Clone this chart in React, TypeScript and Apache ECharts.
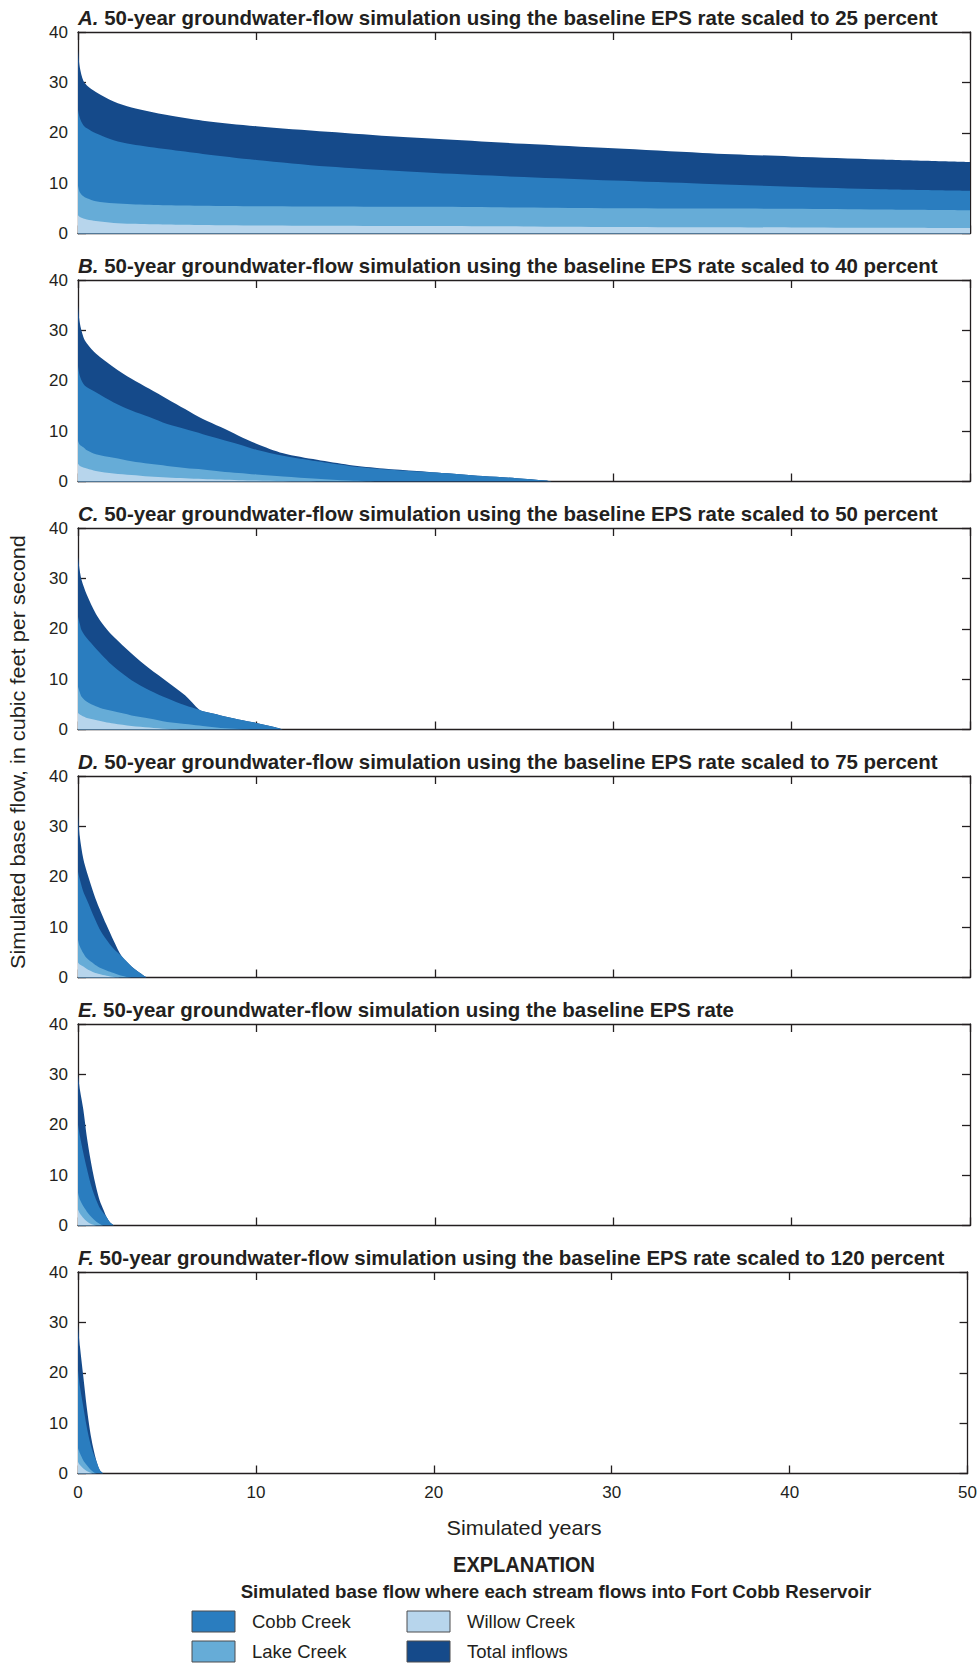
import React, { useEffect, useRef } from "react";
import * as echarts from "echarts";

// ---------- DATA ----------
const panelLetters = ["A", "B", "C", "D", "E", "F"];
const panelTitles = [
  "50-year groundwater-flow simulation using the baseline EPS rate scaled to 25 percent",
  "50-year groundwater-flow simulation using the baseline EPS rate scaled to 40 percent",
  "50-year groundwater-flow simulation using the baseline EPS rate scaled to 50 percent",
  "50-year groundwater-flow simulation using the baseline EPS rate scaled to 75 percent",
  "50-year groundwater-flow simulation using the baseline EPS rate",
  "50-year groundwater-flow simulation using the baseline EPS rate scaled to 120 percent",
];
const seriesNames = ["Total inflows", "Cobb Creek", "Lake Creek", "Willow Creek"];
const yAxisTitle = "Simulated base flow, in cubic feet per second";
const xAxisTitle = "Simulated years";
const legendTitle = "EXPLANATION";
const legendSubtitle = "Simulated base flow where each stream flows into Fort Cobb Reservoir";

// Panel A (25 percent)
const yearsA = [0, 0.1, 0.3, 0.5, 1, 2, 3, 5, 7, 10, 14, 18, 20, 25, 30, 35, 40, 45, 50];
const totalA = [36.5, 33, 30.3, 29.4, 28.1, 26.2, 25.0, 23.5, 22.4, 21.3, 20.2, 19.2, 18.8, 17.8, 16.9, 16.0, 15.3, 14.7, 14.2];
const cobbA = [24.5, 23, 21.5, 20.9, 19.9, 18.5, 17.7, 16.7, 15.8, 14.6, 13.3, 12.4, 12.0, 11.2, 10.5, 9.9, 9.3, 8.8, 8.5];
const lakeA = [9.5, 8.2, 7.4, 7.0, 6.4, 6.0, 5.8, 5.6, 5.5, 5.4, 5.35, 5.3, 5.3, 5.15, 5.0, 4.95, 4.9, 4.75, 4.6];
const willowA = [3.6, 3.3, 3.0, 2.8, 2.5, 2.1, 1.95, 1.8, 1.7, 1.6, 1.55, 1.5, 1.5, 1.4, 1.3, 1.25, 1.2, 1.15, 1.1];

// Panel B (40 percent)
const yearsB = [0, 0.1, 0.3, 0.5, 1, 2, 3, 4, 5, 6, 7, 8, 9, 10, 11.5, 13.4, 15.2, 17.1, 19, 20.1, 22.7, 24.6, 26.2, 26.6];
const totalB = [35, 31.5, 28.7, 27.4, 25.4, 22.7, 20.4, 18.4, 16.4, 14.4, 12.4, 10.8, 9.1, 7.5, 5.6, 4.3, 3.3, 2.6, 2.1, 1.8, 1.1, 0.66, 0.2, 0];
const cobbB = [23, 21, 19.4, 18.7, 17.7, 15.7, 14.1, 12.8, 11.4, 10.4, 9.4, 8.4, 7.4, 6.3, 5.1, 4.0, 3.1, 2.45, 2.0, 1.8, 1.1, 0.66, 0.2, 0];
const lakeB = [8.1, 7.3, 6.8, 6.2, 5.4, 4.7, 4.0, 3.5, 3.1, 2.7, 2.4, 2.0, 1.7, 1.4, 1.0, 0.55, 0.2, 0, 0, 0, 0, 0, 0, 0];
const willowB = [3.5, 3.1, 2.8, 2.6, 2.1, 1.6, 1.3, 1.0, 0.8, 0.65, 0.5, 0.38, 0.27, 0.18, 0.08, 0, 0, 0, 0, 0, 0, 0, 0, 0];

// Panel C (50 percent)
const yearsC = [0, 0.1, 0.2, 0.5, 1, 1.5, 2, 3, 4, 5, 6, 6.8, 7, 8, 9, 10, 11, 11.5];
const totalC = [34.3, 31.5, 29.7, 26.7, 23.0, 20.4, 18.4, 15.1, 12.1, 9.5, 6.8, 3.9, 3.6, 2.8, 2.0, 1.3, 0.5, 0];
const cobbC = [22.4, 21, 19.7, 18.1, 16.1, 14.2, 12.5, 9.8, 7.8, 6.2, 4.8, 3.9, 3.6, 2.8, 2.0, 1.3, 0.5, 0];
const lakeC = [8.5, 7.4, 6.5, 5.5, 4.6, 4.0, 3.6, 2.8, 2.2, 1.5, 1.1, 0.8, 0.7, 0.3, 0.1, 0, 0, 0];
const willowC = [3.3, 3.0, 2.8, 2.3, 1.9, 1.5, 1.2, 0.7, 0.4, 0.1, 0, 0, 0, 0, 0, 0, 0, 0];

// Panel D (75 percent)
const yearsD = [0, 0.1, 0.3, 0.5, 0.9, 1.2, 1.6, 2.0, 2.45, 3.0, 3.5, 3.85];
const totalD = [32.6, 28, 23.5, 20.9, 16.5, 13.7, 10.4, 7.3, 4.2, 2.2, 0.86, 0];
const cobbD = [21, 19.5, 17, 15.4, 12.0, 9.7, 7.5, 5.7, 4.2, 2.2, 0.86, 0];
const lakeD = [7.5, 6.2, 4.8, 3.8, 2.7, 2.0, 1.4, 0.9, 0.35, 0, 0, 0];
const willowD = [3.0, 2.6, 2.2, 1.7, 1.0, 0.7, 0.35, 0.1, 0, 0, 0, 0];

// Panel E (baseline)
const yearsE = [0, 0.11, 0.3, 0.49, 0.67, 0.86, 1.05, 1.23, 1.42, 1.6, 1.79, 2.02];
const totalE = [29.9, 26.9, 23, 17.7, 13.7, 10.1, 7.1, 4.8, 3.2, 1.7, 0.66, 0];
const cobbE = [20, 17.7, 14.4, 11.4, 8.8, 6.6, 4.8, 3.4, 2.5, 1.7, 0.66, 0];
const lakeE = [6.5, 5.1, 3.8, 2.8, 2.0, 1.3, 0.7, 0.3, 0, 0, 0, 0];
const willowE = [3.2, 2.4, 1.5, 0.86, 0.4, 0.13, 0, 0, 0, 0, 0, 0];

// Panel F (120 percent)
const yearsF = [0, 0.11, 0.3, 0.49, 0.67, 0.86, 1.05, 1.23, 1.42];
const totalF = [29.5, 25.2, 19.2, 13.2, 8.6, 5.0, 2.3, 0.66, 0];
const cobbF = [20.5, 17.2, 13.2, 9.3, 6.3, 4.0, 2.3, 0.66, 0];
const lakeF = [5.0, 4.0, 2.6, 1.7, 0.9, 0.3, 0, 0, 0];
const willowF = [2.3, 1.7, 1.0, 0.5, 0.2, 0, 0, 0, 0];

const panelYears = [yearsA, yearsB, yearsC, yearsD, yearsE, yearsF];
const panelSeries = [
  [totalA, cobbA, lakeA, willowA],
  [totalB, cobbB, lakeB, willowB],
  [totalC, cobbC, lakeC, willowC],
  [totalD, cobbD, lakeD, willowD],
  [totalE, cobbE, lakeE, willowE],
  [totalF, cobbF, lakeF, willowF],
];

const xMin = 0, xMax = 50, xStep = 10;
const yMin = 0, yMax = 40, yStep = 10;

// ---------- STYLE ----------
const seriesColors = ["#154a8a", "#2a7dbf", "#66acd7", "#b7d5ec"];
const INK = "#231f20";
const FAMILY = "Liberation Sans";
const FONT = "'Liberation Sans', Arial, sans-serif";

const W = 980, H = 1663;
const GL = 78, GW = 892, GT0 = 32, GSTEP = 248, GH = 201.5;

// horizontal scale so that a text spans a given width (emulates a condensed face)
function fitScale(text: string, weight: string, size: number, target: number) {
  const ctx = document.createElement("canvas").getContext("2d");
  if (!ctx) return 1;
  ctx.font = `${weight} ${size}px "${FAMILY}", Arial, sans-serif`;
  const w = ctx.measureText(text).width;
  return w > 0 ? target / w : 1;
}

export default function App() {
  const ref = useRef<HTMLDivElement>(null);
  useEffect(() => {
    if (!ref.current) return;
    const chart = echarts.init(ref.current, undefined, { renderer: "svg" });

    const grids: any[] = [];
    const xAxes: any[] = [];
    const yAxes: any[] = [];
    const series: any[] = [];
    const graphics: any[] = [];
    const axisLine = { show: true, onZero: false, lineStyle: { color: INK, width: 1.3 } };
    const axisTick = { show: true, inside: true, length: 8, lineStyle: { color: INK, width: 1.3 } };

    const TITLE_SIZE = 20.5;
    const titleScale = fitScale(`${panelLetters[0]}. ${panelTitles[0]}`, "bold", TITLE_SIZE, 860);

    panelLetters.forEach((letter, i) => {
      const top = GT0 + GSTEP * i;
      grids.push({ left: GL, top, width: GW, height: GH });
      const last = i === panelLetters.length - 1;
      xAxes.push({
        type: "value", gridIndex: i, min: xMin, max: xMax, interval: xStep, position: "bottom",
        axisLine, axisTick, splitLine: { show: false },
        axisLabel: { show: last, color: INK, fontFamily: FONT, fontSize: 17, margin: 10 },
      });
      xAxes.push({
        type: "value", gridIndex: i, min: xMin, max: xMax, interval: xStep, position: "top",
        axisLine, axisTick, splitLine: { show: false }, axisLabel: { show: false },
      });
      yAxes.push({
        type: "value", gridIndex: i, min: yMin, max: yMax, interval: yStep, position: "left",
        axisLine, axisTick, splitLine: { show: false },
        axisLabel: { show: true, color: INK, fontFamily: FONT, fontSize: 17, margin: 10 },
      });
      yAxes.push({
        type: "value", gridIndex: i, min: yMin, max: yMax, interval: yStep, position: "right",
        axisLine, axisTick, splitLine: { show: false }, axisLabel: { show: false },
      });
      const yrs = panelYears[i];
      panelSeries[i].forEach((vals, k) => {
        series.push({
          type: "line",
          name: seriesNames[k],
          xAxisIndex: 2 * i,
          yAxisIndex: 2 * i,
          data: yrs.map((t, j) => [t, vals[j]]),
          showSymbol: false,
          symbol: "none",
          smooth: 0.3,
          lineStyle: { width: 0 },
          areaStyle: { color: seriesColors[k], opacity: 1 },
          z: 2 + k,
          silent: true,
        });
      });
      graphics.push({
        type: "text",
        x: GL,
        y: top - 15,
        scaleX: titleScale,
        style: {
          text: `{i|${letter}.} ${panelTitles[i]}`,
          fontFamily: FONT,
          fontWeight: "bold",
          fontSize: TITLE_SIZE,
          fill: INK,
          verticalAlign: "middle",
          rich: {
            i: { fontFamily: FONT, fontWeight: "bold", fontStyle: "italic", fontSize: TITLE_SIZE, fill: INK },
          },
        },
      });
    });

    // Axis titles
    graphics.push({
      type: "text", x: 18, y: 752, rotation: Math.PI / 2,
      scaleX: fitScale(yAxisTitle, "normal", 20.5, 434),
      style: { text: yAxisTitle, fontFamily: FONT, fontSize: 20.5, fill: INK, align: "center", verticalAlign: "middle" },
    });
    graphics.push({
      type: "text", x: 524, y: 1528,
      scaleX: fitScale(xAxisTitle, "normal", 20.5, 155),
      style: { text: xAxisTitle, fontFamily: FONT, fontSize: 20.5, fill: INK, align: "center", verticalAlign: "middle" },
    });
    // Legend
    graphics.push({
      type: "text", x: 524, y: 1564,
      scaleX: fitScale(legendTitle, "bold", 21.5, 142),
      style: { text: legendTitle, fontFamily: FONT, fontWeight: "bold", fontSize: 21.5, fill: INK, align: "center", verticalAlign: "middle" },
    });
    graphics.push({
      type: "text", x: 556, y: 1592,
      scaleX: fitScale(legendSubtitle, "bold", 18, 631),
      style: { text: legendSubtitle, fontFamily: FONT, fontWeight: "bold", fontSize: 18, fill: INK, align: "center", verticalAlign: "middle" },
    });
    const legendOrder = [1, 2, 3, 0];
    const legendPos = [
      [192, 1621.5], [192, 1651.5], [407, 1621.5], [407, 1651.5],
    ];
    legendOrder.forEach((k, idx) => {
      const [lx, ly] = legendPos[idx];
      graphics.push({
        type: "rect",
        shape: { x: lx, y: ly - 10.5, width: 43, height: 21 },
        style: { fill: seriesColors[k], stroke: "#4d4d4f", lineWidth: 1 },
      });
      graphics.push({
        type: "text", x: lx + 60, y: ly,
        style: { text: seriesNames[k], fontFamily: FONT, fontSize: 18.5, fill: INK, verticalAlign: "middle" },
      });
    });

    chart.setOption({
      animation: false,
      backgroundColor: "#ffffff",
      grid: grids,
      xAxis: xAxes,
      yAxis: yAxes,
      series,
      graphic: graphics,
    });
    return () => chart.dispose();
  }, []);
  return (
    <div
      ref={ref}
      style={{ position: "absolute", left: 0, top: 0, width: W, height: H, background: "#fff" }}
    />
  );
}
